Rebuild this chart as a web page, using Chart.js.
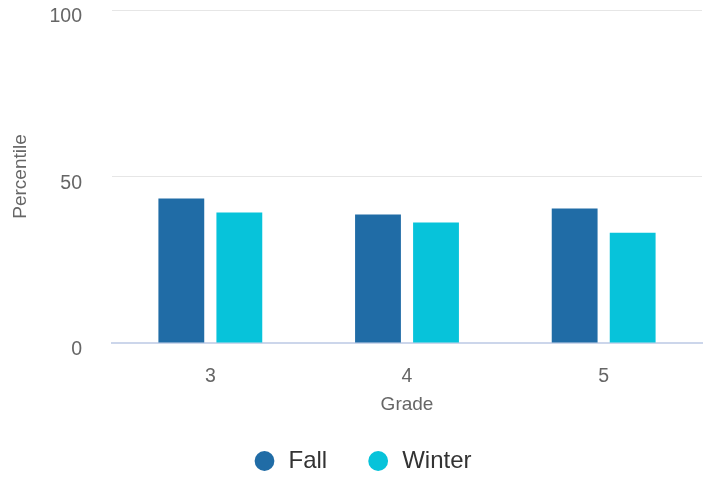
<!DOCTYPE html>
<html><head><meta charset="utf-8">
<script src="https://cdn.jsdelivr.net/npm/chart.js@4"></script>
<style>html,body{margin:0;padding:0;background:#fff}#wrap{width:710px;height:479px}</style>
</head><body><div id="wrap"><canvas id="c" width="710" height="479"></canvas></div>
<script>
const categories = ["3", "4", "5"];
const fallValues = [43.4, 38.6, 40.4];
const winterValues = [39.2, 36.2, 33.1];
const yTicks = [0, 50, 100];
const FONT = "'Liberation Sans', Arial, Helvetica, sans-serif";

new Chart(document.getElementById('c'), {
  type: 'bar',
  data: {
    labels: categories,
    datasets: [
      {label: 'Fall', data: fallValues, backgroundColor: '#206ca6', categoryPercentage: 0.59, barPercentage: 0.79},
      {label: 'Winter', data: winterValues, backgroundColor: '#07c3da', categoryPercentage: 0.59, barPercentage: 0.79}
    ]
  },
  options: {
    responsive: false,
    animation: false,
    layout: {padding: {top: 10, right: 8, bottom: -4, left: 22}},
    plugins: {
      tooltip: {enabled: false},
      legend: {
        position: 'bottom',
        labels: {usePointStyle: true, pointStyle: 'circle', boxWidth: 24, boxHeight: 14, padding: 39,
          color: '#333333', font: {family: FONT, size: 24}}
      }
    },
    scales: {
      x: {
        grid: {display: false},
        border: {display: true, color: '#ccd6eb', width: 2},
        ticks: {color: '#666666', font: {family: FONT, size: 19.5}, padding: 14},
        title: {display: true, text: 'Grade', color: '#666666', font: {family: FONT, size: 19}, padding: {top: 0, bottom: -6}},
        afterFit: (s) => { s.height = 67; }
      },
      y: {
        min: 0, max: 100,
        afterBuildTicks: (s) => { s.ticks = yTicks.map(v => ({value: v})); },
        grid: {color: (ctx) => ctx.tick && ctx.tick.value === 0 ? 'rgba(0,0,0,0)' : '#e6e6e6', drawTicks: false},
        border: {display: false},
        ticks: {color: '#666666', font: {family: FONT, size: 19.5}, padding: 30, labelOffset: 7},
        title: {display: true, text: 'Percentile', color: '#666666', font: {family: FONT, size: 19}, padding: {top: -13, bottom: 0}},
        afterFit: (s) => { s.width = 90; s.paddingTop = 0; s.paddingBottom = 0; }
      }
    }
  }
});
</script></body></html>
